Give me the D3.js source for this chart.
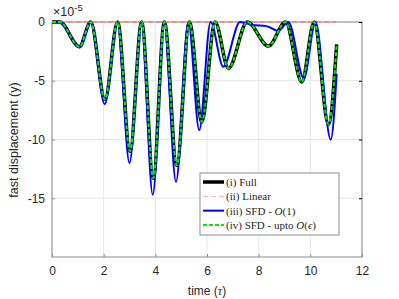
<!DOCTYPE html>
<html>
<head>
<meta charset="UTF-8">
<script src="https://d3js.org/d3.v7.min.js"></script>
<style>
  body { margin: 0; background: #fff; }
  svg text { font-family: "Liberation Sans", Arial, sans-serif; fill: #262626; }
  .leg text { font-family: "Liberation Serif", "DejaVu Serif", serif; }
</style>
</head>
<body>
<svg width="399" height="299"></svg>
<script>
// values in units of 1e-5
const tFull = [0, 0.3, 1.06, 1.5, 2.05, 2.54, 3.02, 3.47, 3.92, 4.35, 4.83, 5.32, 5.8, 6.31, 6.83, 7.56, 8.38, 9.04, 9.67, 10.15, 10.7, 11.02];
const yFull = [0, 0, -2.1, 0, -6.6, 0, -11.0, 0, -13.3, 0, -12.2, 0, -8.5, 0, -3.95, 0, -2.05, 0, -5.1, 0, -8.7, -1.9];
const tO1 = [0, 0.3, 1.06, 1.5, 2.04, 2.53, 3.0, 3.46, 3.9, 4.34, 4.8, 5.28, 5.7, 6.14, 6.63, 7.28, 7.75, 8.3, 8.76, 9.15, 9.75, 10.2, 10.79, 11.02];
const yO1 = [0, 0, -2.15, 0, -7.0, 0, -12.0, 0, -14.7, 0, -13.6, 0, -9.2, 0, -3.8, 0, -0.25, -0.35, -0.75, 0, -4.8, 0, -10.0, -4.4];
const tLin = [0, 11];
const yLin = [0, 0];
// (iv) lies on top of (i)
const tEps = tFull;
const yEps = yFull;
const xTicks = [0, 2, 4, 6, 8, 10, 12];
const yTicks = [0, -5, -10, -15];
const legendLabels = ["(i) Full", "(ii) Linear", "(iii) SFD - ", "(iv) SFD - upto "];
const legendOrders = ["", "", "1", "\u03F5"];

const svg = d3.select("svg");
const x = d3.scaleLinear().domain([0, 12]).range([52, 362]);
const y = d3.scaleLinear().domain([-20, 0]).range([257, 22]);

// grid
svg.append("g").selectAll("line").data(xTicks).join("line")
  .attr("x1", d => x(d)).attr("x2", d => x(d)).attr("y1", 22).attr("y2", 257)
  .attr("stroke", "#e6e6e6").attr("stroke-width", 1);
svg.append("g").selectAll("line").data(yTicks).join("line")
  .attr("x1", 52).attr("x2", 362).attr("y1", d => y(d)).attr("y2", d => y(d))
  .attr("stroke", "#e6e6e6").attr("stroke-width", 1);

// box
svg.append("rect").attr("x", 52).attr("y", 22).attr("width", 310).attr("height", 235)
  .attr("fill", "none").attr("stroke", "#8c8c8c").attr("stroke-width", 1);

// axes
const xAxis = svg.append("g").attr("transform", "translate(0,257)")
  .call(d3.axisBottom(x).tickValues(xTicks).tickSize(-3).tickPadding(9));
const yAxis = svg.append("g").attr("transform", "translate(52,0)")
  .call(d3.axisLeft(y).tickValues(yTicks).tickSize(-3).tickPadding(7).tickFormat(d => d === 0 ? "0" : "-" + Math.abs(d)));
svg.append("g").attr("transform", "translate(362,0)")
  .call(d3.axisRight(y).tickValues(yTicks).tickSize(-3).tickFormat(""));
[xAxis, yAxis].forEach(g => {
  g.select(".domain").remove();
  g.selectAll(".tick line").attr("stroke", "#8c8c8c");
  g.selectAll(".tick text").attr("font-size", 12).attr("fill", "#262626");
});
svg.selectAll(".domain").remove();

// lines
const line = d3.line().x(d => x(d[0])).y(d => y(d[1])).curve(d3.curveMonotoneX);
const zipped = (a, b) => a.map((v, i) => [v, b[i]]);

svg.append("path").attr("d", line(zipped(tFull, yFull)))
  .attr("fill", "none").attr("stroke", "#000").attr("stroke-width", 3.5);
svg.append("path").attr("d", line(zipped(tLin, yLin)))
  .attr("fill", "none").attr("stroke", "#ff6b6b").attr("stroke-width", 1).attr("stroke-dasharray", "5,3");
svg.append("path").attr("d", line(zipped(tO1, yO1)))
  .attr("fill", "none").attr("stroke", "#0000ff").attr("stroke-width", 2);
svg.append("path").attr("d", line(zipped(tEps, yEps)))
  .attr("fill", "none").attr("stroke", "#00ee00").attr("stroke-width", 2).attr("stroke-dasharray", "4,2");

// exponent
const ex = svg.append("text").attr("x", 53).attr("y", 16).attr("font-size", 12.5);
ex.append("tspan").text("\u00D710");
ex.append("tspan").attr("dy", -5).attr("font-size", 9.5).text("-5");

// labels
svg.append("text").attr("x", 207).attr("y", 295).attr("text-anchor", "middle").attr("font-size", 12)
  .html('time (<tspan font-family="Liberation Serif, serif" font-style="italic">\u03C4</tspan>)');
svg.append("text").attr("transform", "translate(18,140) rotate(-90)").attr("text-anchor", "middle")
  .attr("font-size", 12.5).text("fast displacement (y)");

// legend
const leg = svg.append("g").attr("class", "leg");
leg.append("rect").attr("x", 200).attr("y", 173).attr("width", 139).attr("height", 62)
  .attr("fill", "#fff").attr("stroke", "#8c8c8c").attr("stroke-width", 1);
const legStyles = [
  { c: "#000", w: 3.5, d: null },
  { c: "#ffaaaa", w: 1, d: "5,3" },
  { c: "#0000ff", w: 2, d: null },
  { c: "#00ee00", w: 2, d: "4,2" }
];
const legY = d3.scalePoint().domain(d3.range(4)).range([182, 225]);
legendLabels.forEach((lab, i) => {
  const s = legStyles[i];
  leg.append("line").attr("x1", 203).attr("x2", 224).attr("y1", legY(i)).attr("y2", legY(i))
    .attr("stroke", s.c).attr("stroke-width", s.w).attr("stroke-dasharray", s.d);
  const t = leg.append("text").attr("x", 226).attr("y", legY(i) + 4).attr("font-size", 11);
  t.append("tspan").text(lab);
  if (legendOrders[i]) {
    t.append("tspan").attr("font-style", "italic").attr("font-family", "Liberation Serif, serif").text("O");
    t.append("tspan").text("(");
    t.append("tspan").attr("font-style", i === 3 ? "italic" : "normal").text(legendOrders[i]);
    t.append("tspan").text(")");
  }
});
</script>
</body>
</html>
